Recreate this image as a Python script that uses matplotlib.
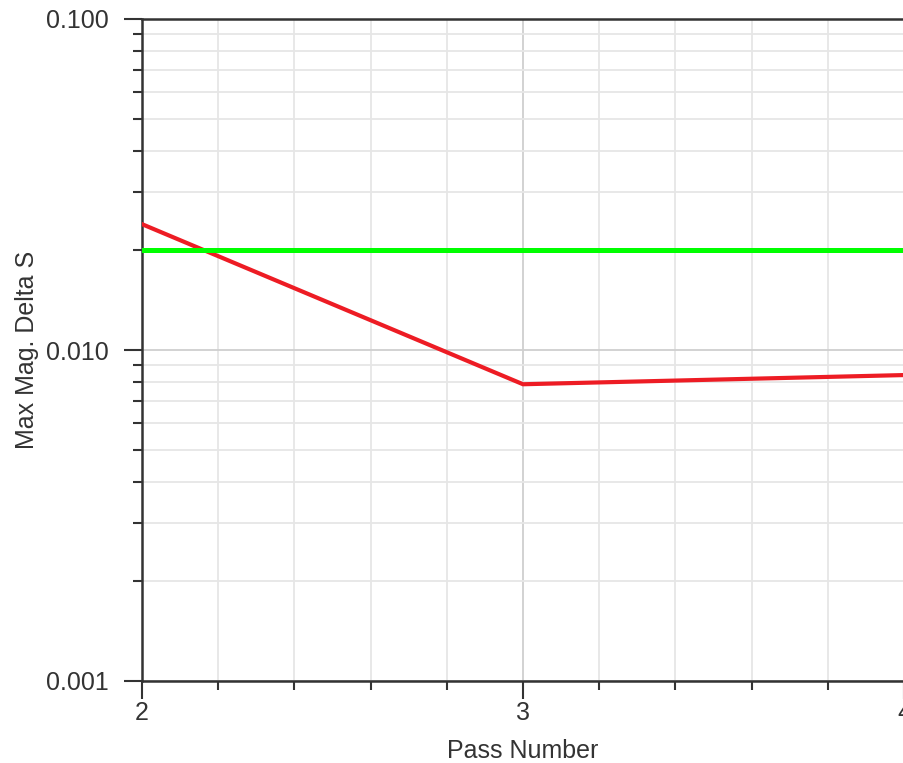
import matplotlib
matplotlib.use("Agg")
import matplotlib.pyplot as plt
from matplotlib.ticker import FixedLocator, NullFormatter, FixedFormatter

plt.rcParams['font.family'] = ['Liberation Sans', 'DejaVu Sans']

passes = [2, 3, 4]
delta_s = [0.0240, 0.00788, 0.0084]
target = 0.02

yticks = [0.001, 0.01, 0.1]
ytick_labels = ["0.001", "0.010", "0.100"]
xticks = [2, 3, 4]
xtick_labels = ["2", "3", "4"]

fig = plt.figure(figsize=(9.04, 7.63), dpi=100)
ax = fig.add_axes([142/904, 1 - 681/763, 1 - 142/904, (681 - 19)/763])

ax.set_yscale('log')
ax.set_xlim(2, 4)
ax.set_ylim(0.001, 0.1)

ax.plot(passes, delta_s, color='#ED1C24', lw=3.0, solid_joinstyle='miter', zorder=3)
ax.axhline(target, color='#00FF00', lw=3.6, zorder=4)

ax.yaxis.set_major_locator(FixedLocator(yticks))
ax.yaxis.set_major_formatter(FixedFormatter(ytick_labels))
minor_y = [m * d for d in (0.001, 0.01) for m in range(2, 10)]
ax.yaxis.set_minor_locator(FixedLocator(minor_y))
ax.yaxis.set_minor_formatter(NullFormatter())

ax.xaxis.set_major_locator(FixedLocator(xticks))
ax.xaxis.set_major_formatter(FixedFormatter(xtick_labels))
ax.xaxis.set_minor_locator(FixedLocator([2.2, 2.4, 2.6, 2.8, 3.2, 3.4, 3.6, 3.8]))

ax.grid(which='major', color='#cfcfcf', lw=1.3, zorder=0)
ax.grid(which='minor', color='#e6e6e6', lw=1.3, zorder=0)
ax.set_axisbelow(True)

for s in ['left', 'bottom', 'top']:
    ax.spines[s].set_color('#333333')
    ax.spines[s].set_linewidth(1.8)
ax.spines['right'].set_visible(False)

ax.tick_params(which='major', direction='out', length=13, width=1.5, color='#333333',
               labelsize=18, labelcolor='#333333')
ax.tick_params(axis='y', which='major', pad=11)
ax.tick_params(axis='x', which='major', pad=1.5)
ax.tick_params(which='minor', direction='out', length=6.5, width=1.5, color='#333333')

ax.set_xlabel('Pass Number', fontsize=18, color='#333333', labelpad=10)
ax.set_ylabel('Max Mag. Delta S', fontsize=18, color='#333333', labelpad=5)

fig.savefig('out.png', dpi=100)
